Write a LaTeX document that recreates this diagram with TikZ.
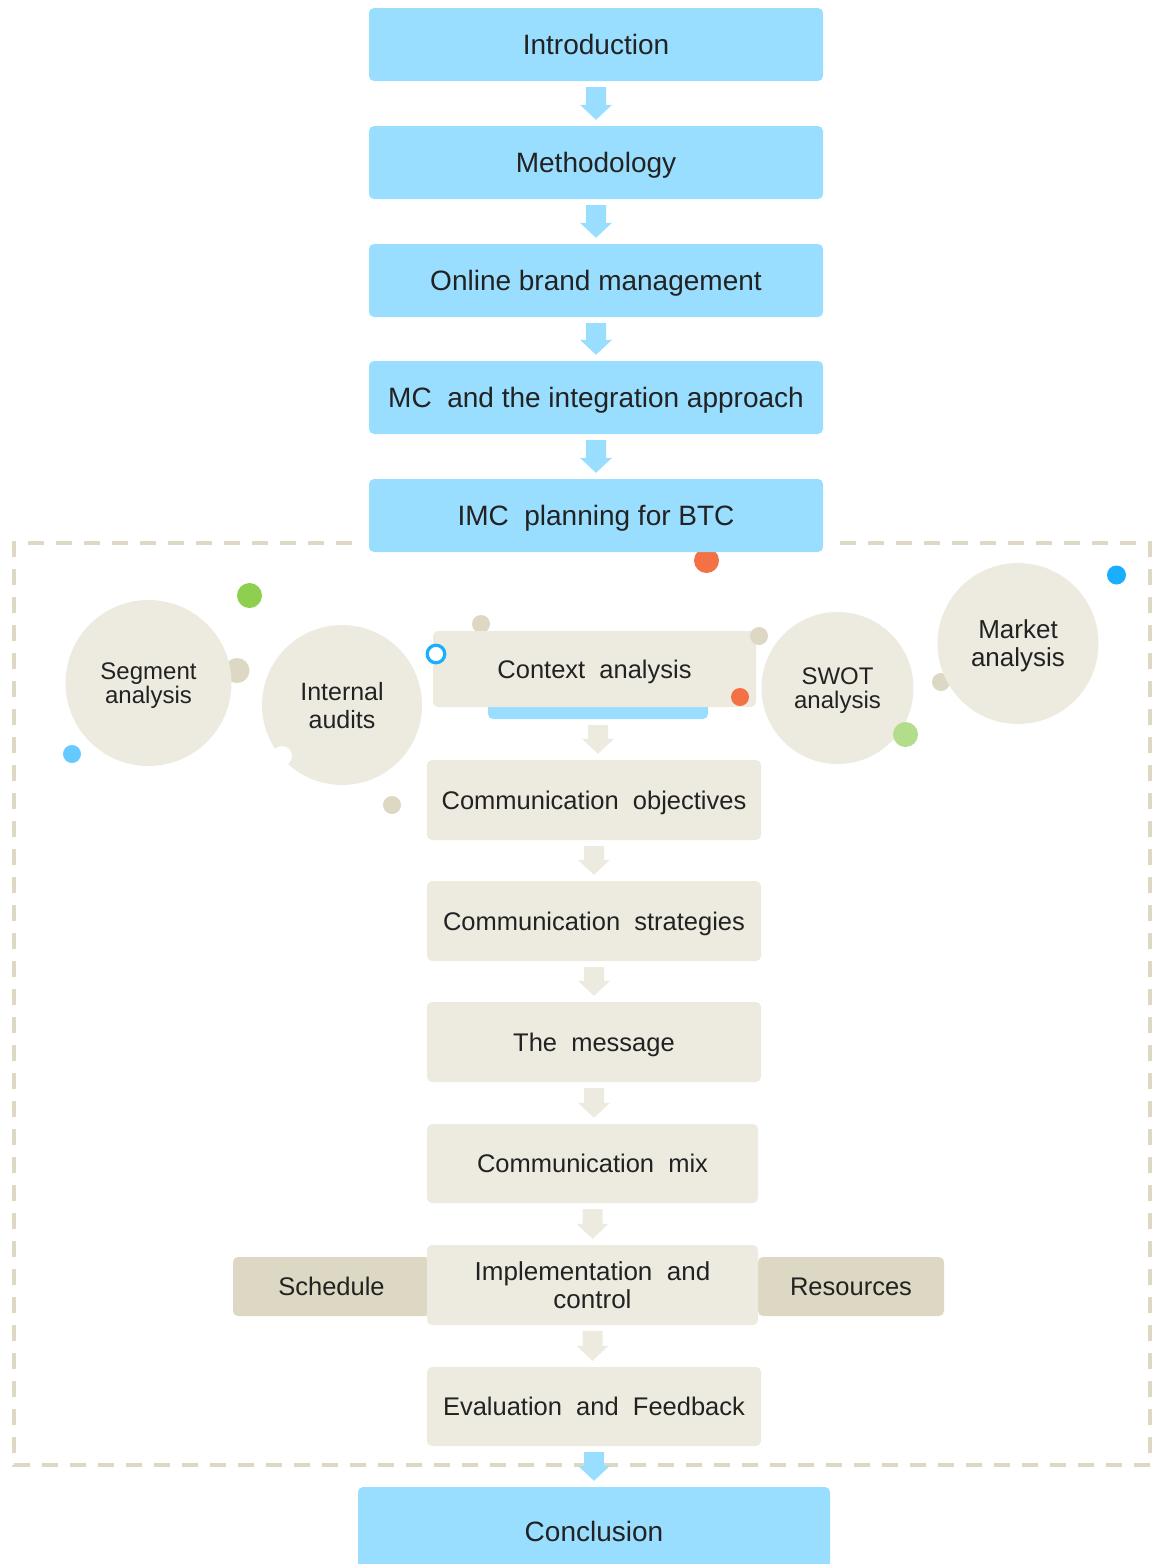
\documentclass[tikz,border=0pt]{standalone}
\usepackage{fontspec}
\setmainfont{Liberation Sans}
\usetikzlibrary{calc}

\definecolor{skyfill}{RGB}{153,222,254}
\definecolor{sand}{RGB}{237,235,224}
\definecolor{sanddark}{RGB}{221,216,195}
\definecolor{ink}{RGB}{34,34,34}
\definecolor{dotorange}{RGB}{244,112,69}
\definecolor{dotgreen}{RGB}{142,207,80}
\definecolor{dotlightgreen}{RGB}{178,221,138}
\definecolor{dotblue}{RGB}{26,174,255}
\definecolor{dotpaleblue}{RGB}{102,201,255}

% block arrow pointing down from the bottom of #1 to the top of #2
\newcommand\flowarrow[3]{%
  \fill[#3] let \p1=($(#1.south)+(0,6)$), \p2=($(#2.north)+(0,-6)$) in
    (\x1-10pt,\y1) -- (\x1+10pt,\y1) -- (\x1+10pt,\y2+15pt) -- (\x1+16pt,\y2+15pt)
    -- (\x1,\y2) -- (\x1-16pt,\y2+15pt) -- (\x1-10pt,\y2+15pt) -- cycle;}

\tikzset{
  skybox/.style={fill=skyfill, rounded corners=5pt, minimum width=454pt,
    minimum height=73pt, inner sep=0pt, text=ink, text height=20pt, text depth=0pt,
    font=\fontsize{28}{32}\selectfont},
  sandbox/.style={fill=sand, rounded corners=5pt, minimum width=334pt,
    minimum height=80pt, inner sep=0pt, text=ink, align=center,
    font=\fontsize{25.5}{28}\selectfont},
  oneline/.style={text height=18.3pt, text depth=0pt},
  sidebox/.style={fill=sanddark, rounded corners=5pt, minimum height=59pt,
    inner sep=0pt, text=ink, oneline, font=\fontsize{25.5}{28}\selectfont},
  bubble/.style={circle, fill=sand, inner sep=0pt, text=ink, align=center,
    text depth=0pt},
  frame/.style={sanddark, line width=4pt, dash pattern=on 16pt off 12pt},
}

\begin{document}
\begin{tikzpicture}[x=1pt, y=-1pt]
\useasboundingbox (0,0) rectangle (1158,1564);

% dashed frame around the planning stage
\draw[frame] (352,543) -- (14,543) -- (14,1465) -- (1150,1465) -- (1150,543) -- (840,543);

\fill[dotorange] (706.5,560.5) circle (12.5pt);

% main chapters
\node[skybox] (intro)  at (596,44.5)  {Introduction};
\node[skybox] (meth)   at (596,162.5) {Methodology};
\node[skybox] (online) at (596,280.5) {Online brand management};
\node[skybox] (mc)     at (596,397.5) {MC\ \ and the integration approach};
\node[skybox] (imc)    at (596,515.5) {IMC\ \ planning for BTC};

\flowarrow{intro}{meth}{skyfill}
\flowarrow{meth}{online}{skyfill}
\flowarrow{online}{mc}{skyfill}
\flowarrow{mc}{imc}{skyfill}

% analysis bubbles
\fill[sanddark] (237,670.5) circle (12.5pt);
\fill[sanddark] (941,682) circle (9pt);

\node[bubble, minimum size=166pt, font=\fontsize{24}{24}\selectfont] (segment) at (148.5,683) {Segment\\analysis};
\node[bubble, minimum size=160pt, font=\fontsize{25}{28}\selectfont] (internal) at (342,705) {Internal\\audits};
\node[bubble, minimum size=152pt, font=\fontsize{24}{24}\selectfont] (swot) at (837.5,688) {SWOT\\analysis};
\node[bubble, minimum size=161pt, font=\fontsize{26}{28}\selectfont] (market) at (1018,643.5) {Market\\analysis};

\fill[white] (282,756) circle (10pt);
\fill[dotgreen] (249.5,595.5) circle (12.5pt);
\fill[dotpaleblue] (72,754) circle (9pt);
\fill[sanddark] (392,805) circle (9pt);
\fill[sanddark] (481,624) circle (9pt);
\fill[dotlightgreen] (905.5,734.5) circle (12.5pt);
\fill[dotblue] (1116.5,575) circle (9.5pt);

% context analysis
\node[fill=skyfill, rounded corners=5pt, minimum width=220pt, minimum height=29pt, inner sep=0pt] (ctxbar) at (598,704.5) {};
\node[sandbox, oneline, minimum width=323pt, minimum height=76pt] (context) at (594.5,669) {Context\ \ analysis};
\fill[sanddark] (759,636) circle (9pt);
\fill[dotorange] (740,697) circle (9pt);
\draw[dotblue, fill=white, line width=3.2pt] (436,654) circle (8.8pt);

% planning steps
\node[sandbox, oneline] (objectives) at (594,800)  {Communication\ \ objectives};
\node[sandbox, oneline] (strategies) at (594,921)  {Communication\ \ strategies};
\node[sandbox, oneline] (message)    at (594,1042) {The\ \ message};
\node[sandbox, oneline, minimum width=331pt, minimum height=79pt] (mix) at (592.5,1163.5) {Communication\ \ mix};
\node[sidebox, minimum width=197pt] (schedule)  at (331.5,1286.5) {Schedule};
\node[sidebox, minimum width=186pt] (resources) at (851,1286.5) {Resources};
\node[sandbox, minimum width=331pt, text depth=-5pt, font=\fontsize{26}{28}\selectfont] (impl) at (592.5,1285) {Implementation\ \ and\\control};
\node[sandbox, oneline, minimum height=79pt] (eval) at (594,1406.5) {Evaluation\ \ and\ \ Feedback};

\flowarrow{ctxbar}{objectives}{sand}
\flowarrow{objectives}{strategies}{sand}
\flowarrow{strategies}{message}{sand}
\flowarrow{message}{mix}{sand}
\flowarrow{mix}{impl}{sand}
\flowarrow{impl}{eval}{sand}

% closing chapter
\node[skybox, minimum width=472pt, minimum height=88pt] (concl) at (594,1531) {Conclusion};
\flowarrow{eval}{concl}{skyfill}
\end{tikzpicture}
\end{document}
